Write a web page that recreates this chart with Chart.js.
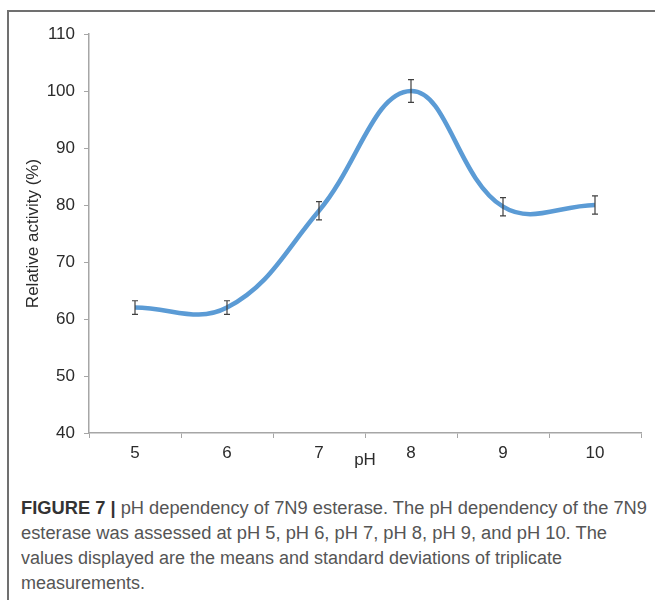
<!DOCTYPE html>
<html>
<head>
<meta charset="utf-8">
<script src="https://cdn.jsdelivr.net/npm/chart.js@4.4.0/dist/chart.umd.min.js"></script>
<style>
  html, body { margin: 0; padding: 0; background: #fff; }
  body { width: 655px; height: 600px; position: relative; overflow: hidden; }
  #frame { position: absolute; left: 7px; top: 10px; width: 660px; height: 600px;
           border-left: 2px solid #707070; border-top: 2px solid #707070; }
  #c { position: absolute; left: 0; top: 0; }
  #caption { position: absolute; left: 21px; top: 496px; font-family: "Liberation Sans", Arial, sans-serif;
             font-size: 18px; line-height: 25px; color: #555; }
  #caption .ln { display: block; white-space: nowrap; transform-origin: 0 50%; width: max-content; }
  #caption b { color: #333; }
</style>
</head>
<body>
<div id="frame"></div>
<canvas id="c" width="655" height="475"></canvas>
<div id="caption">
  <span class="ln" data-w="626"><b>FIGURE 7 |</b> pH dependency of 7N9 esterase. The pH dependency of the 7N9</span>
  <span class="ln" data-w="586">esterase was assessed at pH 5, pH 6, pH 7, pH 8, pH 9, and pH 10. The</span>
  <span class="ln" data-w="541">values displayed are the means and standard deviations of triplicate</span>
  <span class="ln" data-w="124">measurements.</span>
</div>
<script>
const categories = ['5', '6', '7', '8', '9', '10'];
const activity = [62, 62, 79, 100, 79.7, 80];
const stdDev = [1.2, 1.2, 1.6, 2.0, 1.6, 1.6];
const yTicks = [40, 50, 60, 70, 80, 90, 100, 110];
const xTitle = 'pH';
const yTitle = 'Relative activity (%)';

const errorBars = {
  id: 'errorBars',
  afterDatasetsDraw(chart) {
    const ctx = chart.ctx;
    const xs = chart.scales.x, ys = chart.scales.y;
    ctx.save();
    ctx.strokeStyle = '#404040';
    ctx.lineWidth = 1.2;
    activity.forEach((v, i) => {
      const x = xs.getPixelForValue(i);
      const yt = ys.getPixelForValue(v + stdDev[i]);
      const yb = ys.getPixelForValue(v - stdDev[i]);
      ctx.beginPath();
      ctx.moveTo(x, yt); ctx.lineTo(x, yb);
      ctx.moveTo(x - 3, yt); ctx.lineTo(x + 3, yt);
      ctx.moveTo(x - 3, yb); ctx.lineTo(x + 3, yb);
      ctx.stroke();
    });
    ctx.restore();
  }
};

new Chart(document.getElementById('c'), {
  type: 'line',
  data: {
    labels: categories,
    datasets: [{
      data: activity,
      borderColor: '#5b9bd5',
      borderWidth: 4.5,
      pointRadius: 0,
      tension: 0.4,
      fill: false
    }]
  },
  options: {
    responsive: false,
    animation: false,
    layout: { padding: { left: 0, top: 34, right: 14, bottom: 0 } },
    plugins: { legend: { display: false }, tooltip: { enabled: false } },
    scales: {
      x: {
        offset: true,
        grid: { offset: true, drawOnChartArea: false, drawTicks: true, tickLength: 5, color: '#a6a6a6' },
        border: { color: '#a6a6a6', width: 1.5 },
        ticks: { color: '#2b2b2b', font: { family: 'Liberation Sans', size: 17 }, padding: 5, maxRotation: 0 },
        title: { display: true, text: xTitle, color: '#2b2b2b', font: { family: 'Liberation Sans', size: 17 }, padding: { top: 0, bottom: 4 } },
        afterFit(s) { s.height = 42; }
      },
      y: {
        min: 40, max: 110,
        afterBuildTicks(s) { s.ticks = yTicks.map(v => ({ value: v })); },
        grid: { drawOnChartArea: false, drawTicks: true, tickLength: 5, color: '#a6a6a6' },
        border: { color: '#a6a6a6', width: 1.5 },
        ticks: { color: '#2b2b2b', font: { family: 'Liberation Sans', size: 17 }, padding: 9 },
        title: { display: true, text: yTitle, color: '#2b2b2b', font: { family: 'Liberation Sans', size: 17 }, padding: { top: 23, bottom: 0 } },
        afterFit(s) { s.width = 89; }
      }
    }
  },
  plugins: [errorBars]
});

document.querySelectorAll('#caption .ln').forEach(el => {
  const target = +el.dataset.w;
  const w = el.getBoundingClientRect().width;
  if (w > 0) el.style.transform = 'scaleX(' + (target / w) + ')';
});
</script>
</body>
</html>
